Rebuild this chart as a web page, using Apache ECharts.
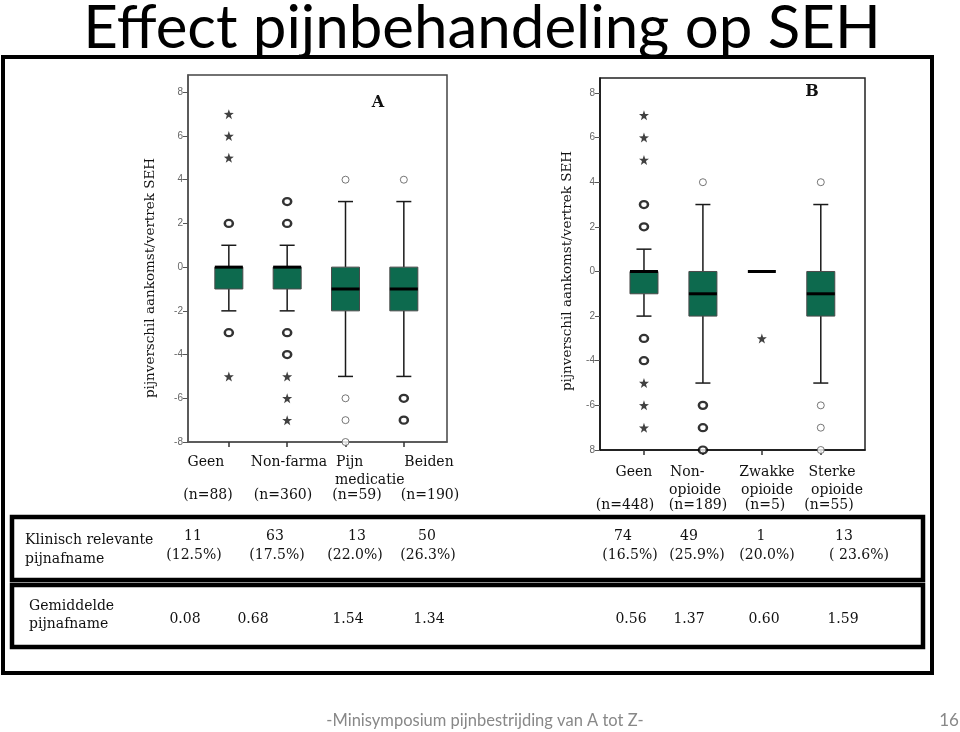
<!DOCTYPE html>
<html><head><meta charset="utf-8">
<script src="https://cdn.jsdelivr.net/npm/echarts@6/dist/echarts.min.js"></script>
<style>html,body{margin:0;padding:0;background:#fff}#c{width:960px;height:732px}</style>
</head><body><div id="c"></div>
<script>
// ---------- data ----------
const yTicks = [-8, -6, -4, -2, 0, 2, 4, 6, 8];
const yTickLabelsA = ['-8', '-6', '-4', '-2', '0', '2', '4', '6', '8'];
const yTickLabelsB = ['8', '-6', '-4', '2', '0', '2', '4', '6', '8'];
const catPos = [1, 2, 3, 4];
const categoriesA = ['Geen', 'Non-farma', 'Pijn\nmedicatie', 'Beiden'];
const nA = ['(n=88)', '(n=360)', '(n=59)', '(n=190)'];
const categoriesB = ['Geen', 'Non-\nopioide', 'Zwakke\nopioide', 'Sterke\nopioide'];
const nB = ['(n=448)', '(n=189)', '(n=5)', '(n=55)'];
// [low whisker, Q1, median, Q3, high whisker]
const boxesA = [[-2, -1, 0, 0, 1], [-2, -1, 0, 0, 1], [-5, -2, -1, 0, 3], [-5, -2, -1, 0, 3]];
const boxesB = [[-2, -1, 0, 0, 1], [-5, -2, -1, 0, 3], [0, 0, 0, 0, 0], [-5, -2, -1, 0, 3]];
// outliers [category, value]
const circlesBoldA = [[1, 2], [1, -3], [2, 3], [2, 2], [2, -3], [2, -4], [4, -6], [4, -7]];
const circlesThinA = [[3, 4], [3, -6], [3, -7], [3, -8], [4, 4]];
const starsA = [[1, 7], [1, 6], [1, 5], [1, -5], [2, -5], [2, -6], [2, -7]];
const circlesBoldB = [[1, 3], [1, 2], [1, -3], [1, -4], [2, -6], [2, -7], [2, -8]];
const circlesThinB = [[2, 4], [4, 4], [4, -6], [4, -7], [4, -8]];
const starsB = [[1, 7], [1, 6], [1, 5], [1, -5], [1, -6], [1, -7], [3, -3]];
// table
const rowLabel1 = ['Klinisch relevante', 'pijnafname'];
const rowLabel2 = ['Gemiddelde', 'pijnafname'];
const clinCounts = ['11', '63', '13', '50', '74', '49', '1', '13'];
const clinPct = ['(12.5%)', '(17.5%)', '(22.0%)', '(26.3%)', '(16.5%)', '(25.9%)', '(20.0%)', '( 23.6%)'];
const meanDrop = ['0.08', '0.68', '1.54', '1.34', '0.56', '1.37', '0.60', '1.59'];
const titleText = 'Effect pijnbehandeling op SEH';
const footerText = '-Minisymposium pijnbestrijding van A tot Z-';
const pageNo = '16';
const yTitle = 'pijnverschil aankomst/vertrek SEH';

// ---------- layout / styling ----------
const GREEN = '#0d6a4e';
const SERIF = '"DejaVu Serif", "Liberation Serif", serif';
const SANS = 'Lato, "Open Sans", sans-serif';
const STAR = 'path://M0,-10 L2.35,-3.24 L9.51,-3.09 L3.8,1.24 L5.88,8.09 L0,4 L-5.88,8.09 L-3.8,1.24 L-9.51,-3.09 L-2.35,-3.24 Z';

function boxRender(params, api) {
  const x = api.value(0);
  const lo = api.coord([x, api.value(1)]);
  const q1 = api.coord([x, api.value(2)]);
  const md = api.coord([x, api.value(3)]);
  const q3 = api.coord([x, api.value(4)]);
  const hi = api.coord([x, api.value(5)]);
  const cx = lo[0], bw = 28, cw = 15;
  const ls = { stroke: '#1a1a1a', lineWidth: 1.5 };
  const ch = [];
  if (hi[1] !== q3[1]) {
    ch.push({ type: 'line', shape: { x1: cx, y1: hi[1], x2: cx, y2: q3[1] }, style: ls });
    ch.push({ type: 'line', shape: { x1: cx - cw / 2, y1: hi[1], x2: cx + cw / 2, y2: hi[1] }, style: ls });
  }
  if (lo[1] !== q1[1]) {
    ch.push({ type: 'line', shape: { x1: cx, y1: q1[1], x2: cx, y2: lo[1] }, style: ls });
    ch.push({ type: 'line', shape: { x1: cx - cw / 2, y1: lo[1], x2: cx + cw / 2, y2: lo[1] }, style: ls });
  }
  if (q1[1] !== q3[1]) {
    ch.push({ type: 'rect', shape: { x: cx - bw / 2, y: q3[1], width: bw, height: q1[1] - q3[1] },
      style: { fill: GREEN, stroke: '#4a4a4a', lineWidth: 1 } });
  }
  ch.push({ type: 'line', shape: { x1: cx - bw / 2, y1: md[1], x2: cx + bw / 2, y2: md[1] },
    style: { stroke: '#000', lineWidth: 3 } });
  return { type: 'group', children: ch };
}

function makeAxes(gi, xmin, xmax, ymax, labels, axisColor) {
  const x = {
    type: 'value', gridIndex: gi, min: xmin, max: xmax,
    axisLine: { show: true, onZero: false, lineStyle: { color: axisColor, width: 1.5 } },
    axisTick: { show: true, customValues: catPos, length: 5, inside: false, lineStyle: { color: '#333', width: 1.5 } },
    axisLabel: { show: false }, splitLine: { show: false }
  };
  const y = {
    type: 'value', gridIndex: gi, min: -8, max: ymax,
    axisLine: { show: true, onZero: false, lineStyle: { color: axisColor, width: 1.5 } },
    axisTick: { show: true, customValues: yTicks, length: 5, lineStyle: { color: '#555', width: 1 } },
    axisLabel: { show: true, customValues: yTicks, margin: 5, fontSize: 10, color: '#666',
      fontFamily: '"Liberation Sans", Arial, sans-serif',
      formatter: v => labels[yTicks.indexOf(v)] },
    splitLine: { show: false }
  };
  return [x, y];
}

const axA = makeAxes(0, 0.3, 4.74, 8.79, yTickLabelsA, '#555');
const axB = makeAxes(1, 0.254, 4.75, 8.67, yTickLabelsB, '#111');

function boxData(boxes) { return boxes.map((b, i) => [catPos[i]].concat(b)); }
function scat(name, data, xi, kind) {
  const s = { type: 'scatter', name, xAxisIndex: xi, yAxisIndex: xi, data, z: 5, silent: true };
  if (kind === 'bold') {
    s.symbol = 'circle'; s.symbolSize = [8, 7];
    s.itemStyle = { color: '#fff', borderColor: '#000', borderWidth: 2.4 };
  } else if (kind === 'thin') {
    s.symbol = 'circle'; s.symbolSize = [7, 7];
    s.itemStyle = { color: '#fff', borderColor: '#555', borderWidth: 1 };
  } else {
    s.symbol = STAR; s.symbolSize = 10;
    s.itemStyle = { color: '#111' };
  }
  return s;
}

// graphic texts
const g = [];
function txt(text, x, y, o) {
  g.push(Object.assign({ type: 'text', x, y, silent: true,
    style: Object.assign({ text, align: 'center', verticalAlign: 'middle', fill: '#111',
      font: '14px ' + SERIF }, (o && o.style) || {}) }, (o && o.el) || {}));
}
// frames
g.push({ type: 'rect', shape: { x: 3, y: 57, width: 929, height: 616 }, style: { fill: 'none', stroke: '#000', lineWidth: 4 } });
g.push({ type: 'rect', shape: { x: 12, y: 517, width: 911, height: 63 }, style: { fill: 'none', stroke: '#000', lineWidth: 4.5 } });
g.push({ type: 'rect', shape: { x: 12, y: 585, width: 911, height: 62 }, style: { fill: 'none', stroke: '#000', lineWidth: 4.5 } });
// title and footer
txt(titleText, 482, 29, { style: { font: '60px ' + SANS, fill: '#000' } });
txt(footerText, 485, 721, { style: { font: '16.5px ' + SANS, fill: '#888' } });
txt(pageNo, 949, 721, { style: { font: '17px ' + SANS, fill: '#888' } });
// axis titles
txt(yTitle, 150, 278, { el: { rotation: Math.PI / 2 }, style: { font: '13.5px ' + SERIF } });
txt(yTitle, 567, 271, { el: { rotation: Math.PI / 2 }, style: { font: '13.5px ' + SERIF } });
// panel letters
txt('A', 378, 103, { style: { font: 'bold 16px ' + SERIF } });
txt('B', 812, 92, { style: { font: 'bold 16px ' + SERIF } });
// category labels
function catLabels(cats, ns, pos, nPos, y0, ny) {
  cats.forEach((c, i) => {
    const lines = c.split('\n');
    const p = pos[i];
    lines.forEach((ln, j) => txt(ln, p[j][0], y0 + j * 18.5, { style: { align: p[j][1] } }));
    txt(ns[i], nPos[i], ny);
  });
}
catLabels(categoriesA, nA,
  [[[206, 'center']], [[289, 'center']], [[336, 'left'], [335, 'left']], [[429, 'center']]],
  [208, 283, 357, 430], 462, 495);
catLabels(categoriesB, nB,
  [[[634, 'center']], [[670, 'left'], [669, 'left']], [[767, 'center'], [767, 'center']], [[832, 'center'], [837, 'center']]],
  [625, 698, 765, 829], 472, 505);
// table
rowLabel1.forEach((t, j) => txt(t, 25, 540 + j * 19, { style: { align: 'left' } }));
rowLabel2.forEach((t, j) => txt(t, 29, 606 + j * 18.5, { style: { align: 'left' } }));
const cntX = [193, 275, 357, 427, 623, 689, 761, 844];
const pctX = [194, 277, 355, 428, 630, 697, 767, 859];
const meanX = [185, 253, 348, 429, 631, 689, 764, 843];
clinCounts.forEach((t, i) => txt(t, cntX[i], 536));
clinPct.forEach((t, i) => txt(t, pctX[i], 555));
meanDrop.forEach((t, i) => txt(t, meanX[i], 619));

const chart = echarts.init(document.getElementById('c'), null, { renderer: 'canvas' });
chart.setOption({
  animation: false,
  backgroundColor: '#fff',
  grid: [
    { left: 188, top: 75, width: 259, height: 367, show: true, borderColor: '#444', borderWidth: 1.5, backgroundColor: 'transparent' },
    { left: 600, top: 78, width: 265, height: 372, show: true, borderColor: '#222', borderWidth: 1.5, backgroundColor: 'transparent' }
  ],
  xAxis: [axA[0], axB[0]],
  yAxis: [axA[1], axB[1]],
  series: [
    { type: 'custom', name: 'A', xAxisIndex: 0, yAxisIndex: 0, renderItem: boxRender,
      encode: { x: 0, y: [1, 2, 3, 4, 5] }, data: boxData(boxesA), silent: true },
    { type: 'custom', name: 'B', xAxisIndex: 1, yAxisIndex: 1, renderItem: boxRender,
      encode: { x: 0, y: [1, 2, 3, 4, 5] }, data: boxData(boxesB), silent: true },
    scat('A bold', circlesBoldA, 0, 'bold'),
    scat('A thin', circlesThinA, 0, 'thin'),
    scat('A star', starsA, 0, 'star'),
    scat('B bold', circlesBoldB, 1, 'bold'),
    scat('B thin', circlesThinB, 1, 'thin'),
    scat('B star', starsB, 1, 'star')
  ],
  graphic: { elements: g }
});
</script></body></html>
